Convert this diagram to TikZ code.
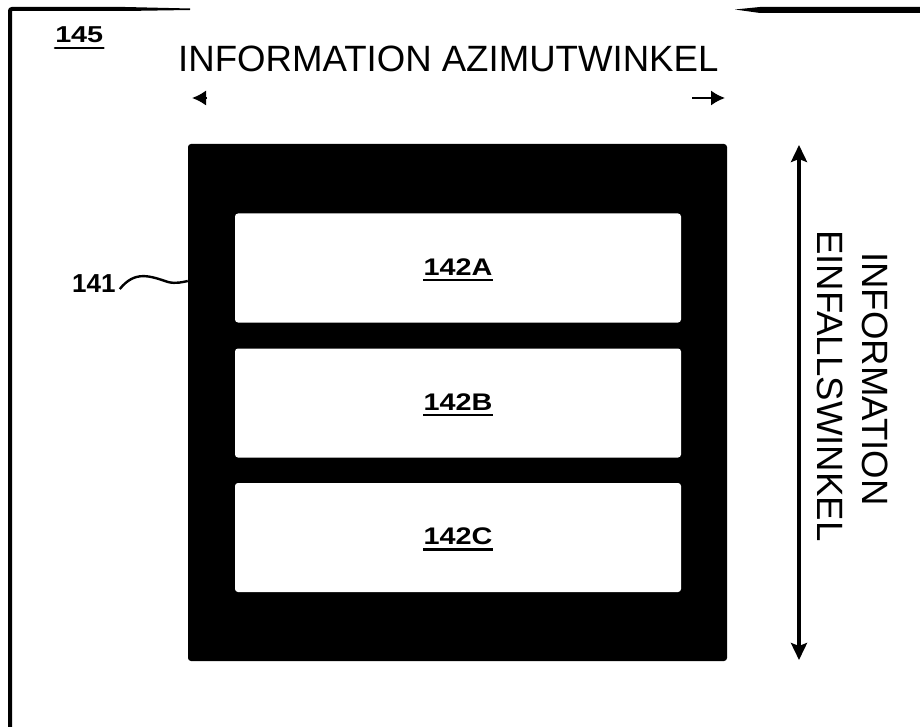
\documentclass[tikz,border=0pt]{standalone}
\usepackage{fontspec}
\setmainfont{Liberation Sans}
\usetikzlibrary{arrows.meta}
\begin{document}
\begin{tikzpicture}[x=1pt,y=-1pt,
  blackbox/.style={fill=black,rounded corners=3pt,inner sep=0,minimum width=539pt,minimum height=517pt},
  whitebox/.style={fill=white,rounded corners=3pt,inner sep=0,minimum width=446pt,minimum height=109pt},
  reflabel/.style={inner sep=0,anchor=base,font=\bfseries\fontsize{24}{24}\selectfont,xscale=1.2},
  bigtext/.style={inner sep=0,font=\fontsize{36.6}{40}\selectfont},
  ul/.style={line width=2.6pt,line cap=round},
  frameline/.style={line width=4pt},
  harrow/.style={line width=1.8pt,-{Latex[length=14pt,width=15pt]}},
  varrow/.style={line width=3.5pt,{Stealth[length=17pt,width=16pt,inset=3pt]}-{Stealth[length=17pt,width=16pt,inset=3pt]}}]
\useasboundingbox (0,0) rectangle (920,727);
% frame
\draw[frameline,rounded corners=2pt] (10,727) -- (10,9) -- (125,9);
\fill (125,7) -- (190,8.5) -- (190,10) -- (125,11) -- cycle;
\fill (735,9.5) -- (760,7) -- (920,7) -- (920,13) -- (760,13) -- cycle;
% 145
\node[inner sep=0,anchor=base west,font=\bfseries\fontsize{23}{23}\selectfont,xscale=1.25] (n145) at (55,43) {145};
\draw[ul] ([yshift=-5pt]n145.base west) -- ([yshift=-5pt]n145.base east);
% title
\node[bigtext,anchor=base west] (title) at (178,72) {INFORMATION AZIMUTWINKEL};
\coordinate (la1) at (207,98); \coordinate (la2) at (192,98);
\coordinate (ra1) at (692,98); \coordinate (ra2) at (725,98);
\draw[harrow] (la1) -- (la2);
\draw[harrow] (ra1) -- (ra2);
% main box
\node[blackbox] (box) at (457.5,402.5) {};
\node[whitebox] (A) at (458,268) {};
\node[whitebox] (B) at (458,403) {};
\node[whitebox] (C) at (458,537.5) {};
\node[reflabel] (tA) at (458,275) {142A};
\node[reflabel] (tB) at (458,410) {142B};
\node[reflabel] (tC) at (458,544.5) {142C};
\foreach \t in {tA,tB,tC}{
  \draw[line width=2.2pt] ([yshift=-5pt]\t.base west) -- ([yshift=-5pt]\t.base east);
}
% 141
\node[inner sep=0,anchor=base west,font=\bfseries\fontsize{26}{26}\selectfont] (n141) at (72,292) {141};
\draw[line width=2.4pt] ([xshift=4pt,yshift=-6pt]n141.east) .. controls (135,270) and (150,276) .. (168,282) .. controls (176,284) and (183,282) .. (box.west |- 0,281);
% vertical arrow
\coordinate (vt) at (799,145); \coordinate (vb) at (799,660);
\draw[varrow] (vt) -- (vb);
% rotated text
\node[bigtext,rotate=-90,anchor=base west] (inf) at (862,252) {INFORMATION};
\node[bigtext,rotate=-90,anchor=base west] (ein) at (817,230) {EINFALLSWINKEL};
\end{tikzpicture}
\end{document}
